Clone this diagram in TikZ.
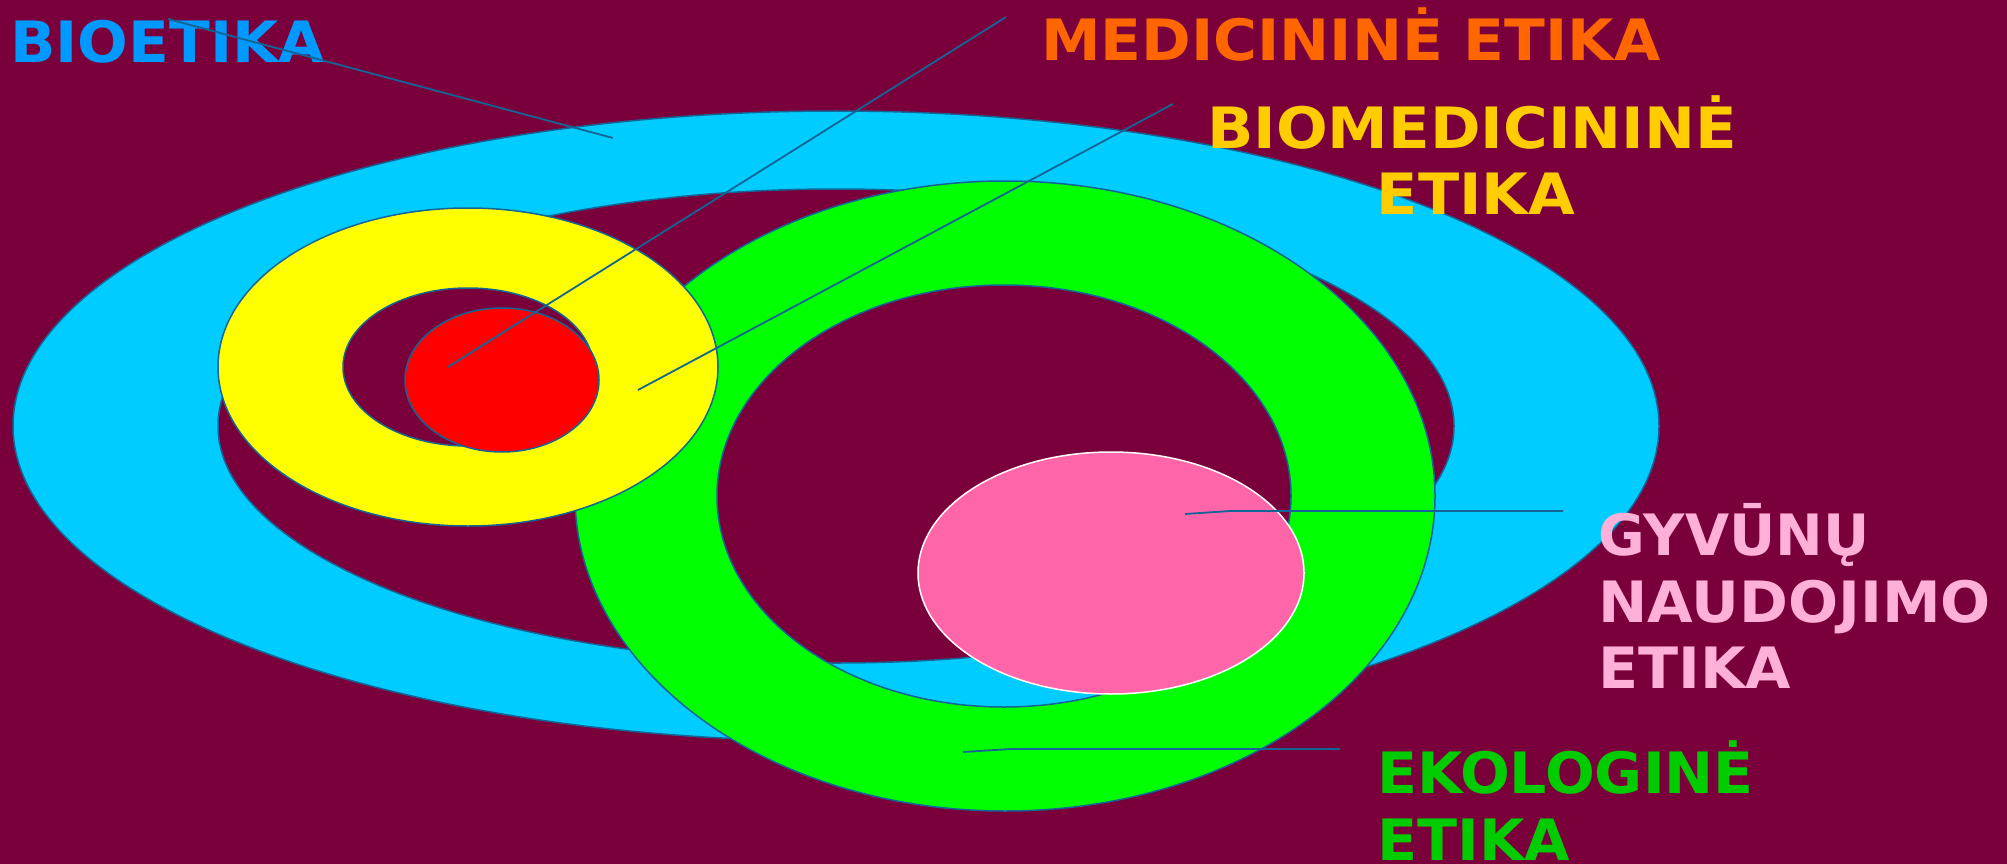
\documentclass[tikz,border=0pt]{standalone}
\usepackage{fontspec}
\usepackage{graphicx}
\setmainfont{DejaVu Sans}
\definecolor{bgc}{RGB}{122,0,60}
\definecolor{cyanc}{RGB}{0,204,255}
\definecolor{greenc}{RGB}{0,255,0}
\definecolor{yellowc}{RGB}{255,255,0}
\definecolor{redc}{RGB}{255,0,0}
\definecolor{pinkc}{RGB}{255,102,170}
\definecolor{edgec}{RGB}{20,100,150}
\definecolor{tblue}{RGB}{0,153,255}
\definecolor{torange}{RGB}{255,102,0}
\definecolor{tyellow}{RGB}{255,204,0}
\definecolor{tpink}{RGB}{255,176,216}
\definecolor{tgreen}{RGB}{0,204,0}
\newcommand{\stretchtxt}[2]{\scalebox{#1}[1]{#2}}
\begin{document}
\begin{tikzpicture}[x=1pt,y=-1pt,
  ringstyle/.style={draw=edgec,line width=1.5pt,even odd rule},
  lab/.style={inner sep=0pt,font=\fontsize{57}{66}\selectfont\bfseries},
  leader/.style={draw=edgec,line width=1.8pt}]
\useasboundingbox (0,0) rectangle (2007,864);
\fill[bgc] (0,0) rectangle (2007,864);
% cyan ring
\path[ringstyle,fill=cyanc] (836,426) ellipse [x radius=823pt,y radius=315pt]
  (836,426) ellipse [x radius=618pt,y radius=237pt];
% green ring
\path[ringstyle,fill=greenc] (1005,496) ellipse [x radius=430pt,y radius=315pt]
  (1004,496) ellipse [x radius=287pt,y radius=211pt];
% yellow ring
\path[ringstyle,fill=yellowc] (468,367) ellipse [x radius=250pt,y radius=159pt]
  (468,367) ellipse [x radius=125pt,y radius=79pt];
% red
\path[draw=edgec,line width=1.5pt,fill=redc] (502,380) ellipse [x radius=97pt,y radius=72pt];
% pink
\path[draw=white,line width=1.5pt,fill=pinkc] (1111,573) ellipse [x radius=193pt,y radius=121pt];
% labels
\node[lab,text=tblue,anchor=base west] (bio) at (10,63) {\stretchtxt{1.047}{BIOETIKA}};
\node[lab,text=torange,anchor=base west] (med) at (1041,61) {\stretchtxt{1.05}{MEDICININĖ ETIKA}};
\node[lab,text=tyellow,anchor=base] (biom1) at (1472,148) {\stretchtxt{1.068}{BIOMEDICININĖ}};
\node[lab,text=tyellow,anchor=base] (biom2) at (1476,214) {\stretchtxt{1.06}{ETIKA}};
\node[lab,text=tpink,anchor=base west] (gyv1) at (1598,555) {GYVŪNŲ};
\node[lab,text=tpink,anchor=base west] (gyv2) at (1598,622) {\stretchtxt{1.034}{NAUDOJIMO}};
\node[lab,text=tpink,anchor=base west] (gyv3) at (1598,688) {\stretchtxt{1.03}{ETIKA}};
\node[lab,text=tgreen,anchor=base west] (eko1) at (1377,793) {\stretchtxt{1.028}{EKOLOGINĖ}};
\node[lab,text=tgreen,anchor=base west] (eko2) at (1377,860) {\stretchtxt{1.03}{ETIKA}};
% leader coordinates
\coordinate (bioS) at (168,19);
\coordinate (bioE) at (613,138);
\coordinate (medS) at (1006,17);
\coordinate (medE) at (448,367);
\coordinate (biomS) at (1173,104);
\coordinate (biomE) at (638,390);
\coordinate (gyvS) at (1563,511);
\coordinate (gyvM) at (1230,511);
\coordinate (gyvE) at (1185,514);
\coordinate (ekoS) at (1340,749);
\coordinate (ekoM) at (1011,749);
\coordinate (ekoE) at (963,752);
\draw[leader] (bioS) -- (bioE);
\draw[leader] (medS) -- (medE);
\draw[leader] (biomS) -- (biomE);
\draw[leader] (gyvS) -- (gyvM) -- (gyvE);
\draw[leader] (ekoS) -- (ekoM) -- (ekoE);
\end{tikzpicture}
\end{document}
